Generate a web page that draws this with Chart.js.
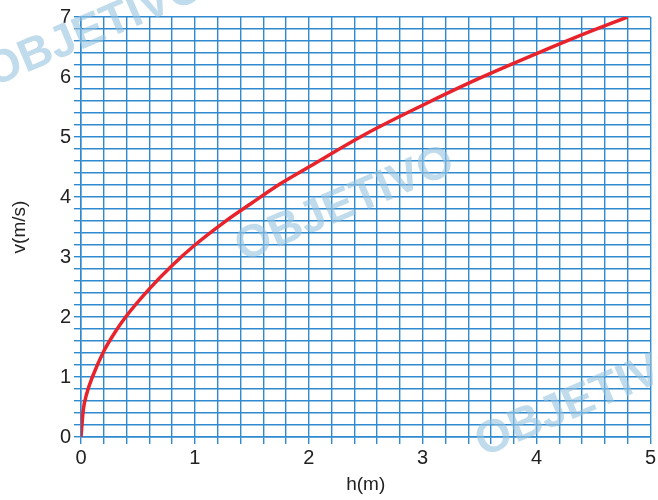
<!DOCTYPE html>
<html>
<head>
<meta charset="utf-8">
<script src="https://cdn.jsdelivr.net/npm/chart.js@4"></script>
<style>
  html, body { margin: 0; padding: 0; background: #fff; }
  #wrap { width: 658px; height: 500px; }
</style>
</head>
<body>
<div id="wrap"><canvas id="speedChart" width="658" height="500"></canvas></div>
<script>
// values
const hValues = [0, 0.02, 0.05, 0.1, 0.2, 0.3, 0.4, 0.6, 0.8, 1.0, 1.25, 1.5, 1.75, 2.0, 2.5, 3.0, 3.5, 4.0, 4.5, 4.8];
const vValues = [0, 0.45, 0.72, 1.0, 1.43, 1.75, 2.02, 2.47, 2.86, 3.2, 3.57, 3.9, 4.22, 4.5, 5.05, 5.53, 5.98, 6.39, 6.78, 7.0];
const xTickLabels = ["0", "1", "2", "3", "4", "5"];
const yTickLabels = ["0", "1", "2", "3", "4", "5", "6", "7"];

const gridBlue = "#2f8ad0";
const labelFont = { family: "Liberation Sans, Arial, sans-serif", size: 20 };

// faint "OBJETIVO" watermarks
const watermark = {
  id: "watermark",
  afterDatasetsDraw(chart) {
    const ctx = chart.ctx;
    const marks = [[95, 30], [345, 205], [585, 400]];
    ctx.save();
    ctx.fillStyle = "rgba(150, 195, 222, 0.6)";
    ctx.font = "bold 46px Liberation Sans, Arial, sans-serif";
    ctx.textAlign = "center";
    ctx.textBaseline = "middle";
    marks.forEach(([x, y]) => {
      ctx.save();
      ctx.translate(x, y);
      ctx.rotate(-0.4);
      ctx.fillText("OBJETIVO", 0, 0);
      ctx.restore();
    });
    ctx.restore();
  },
};

new Chart(document.getElementById("speedChart"), {
  type: "line",
  data: {
    datasets: [
      {
        data: hValues.map((h, i) => ({ x: h, y: vValues[i] })),
        borderColor: "#e8232b",
        borderWidth: 3.5,
        pointRadius: 0,
        tension: 0.4,
        cubicInterpolationMode: "monotone",
        fill: false,
      },
    ],
  },
  options: {
    responsive: false,
    animation: false,
    layout: { padding: { top: 17, right: 0, left: 4, bottom: 0 } },
    plugins: { legend: { display: false }, tooltip: { enabled: false } },
    scales: {
      x: {
        type: "linear",
        min: 0,
        max: 5,
        afterFit: (s) => { s.height = 63; },
        ticks: {
          stepSize: 0.2,
          autoSkip: false,
          maxRotation: 0,
          color: "#222",
          font: labelFont,
          padding: 2,
          callback: (v) => {
            const r = Math.round(v * 10) / 10;
            return Number.isInteger(r) ? xTickLabels[r] : "";
          },
        },
        grid: { color: gridBlue, lineWidth: 1.4, tickLength: 7, tickColor: gridBlue },
        border: { color: gridBlue, width: 1.5 },
        title: { display: true, text: "h(m)", color: "#222", font: { family: labelFont.family, size: 19 }, padding: { top: 0 } },
      },
      y: {
        type: "linear",
        min: 0,
        max: 7,
        afterFit: (s) => { s.width = 77; },
        ticks: {
          stepSize: 0.2,
          autoSkip: false,
          color: "#222",
          font: labelFont,
          padding: 3,
          callback: (v) => {
            const r = Math.round(v * 10) / 10;
            return Number.isInteger(r) ? yTickLabels[r] : "";
          },
        },
        grid: { color: gridBlue, lineWidth: 1.4, tickLength: 7, tickColor: gridBlue },
        border: { color: gridBlue, width: 1.5 },
        title: { display: true, text: "v(m/s)", color: "#222", font: { family: labelFont.family, size: 19 }, padding: { bottom: 4 } },
      },
    },
  },
  plugins: [watermark],
});
</script>
</body>
</html>
